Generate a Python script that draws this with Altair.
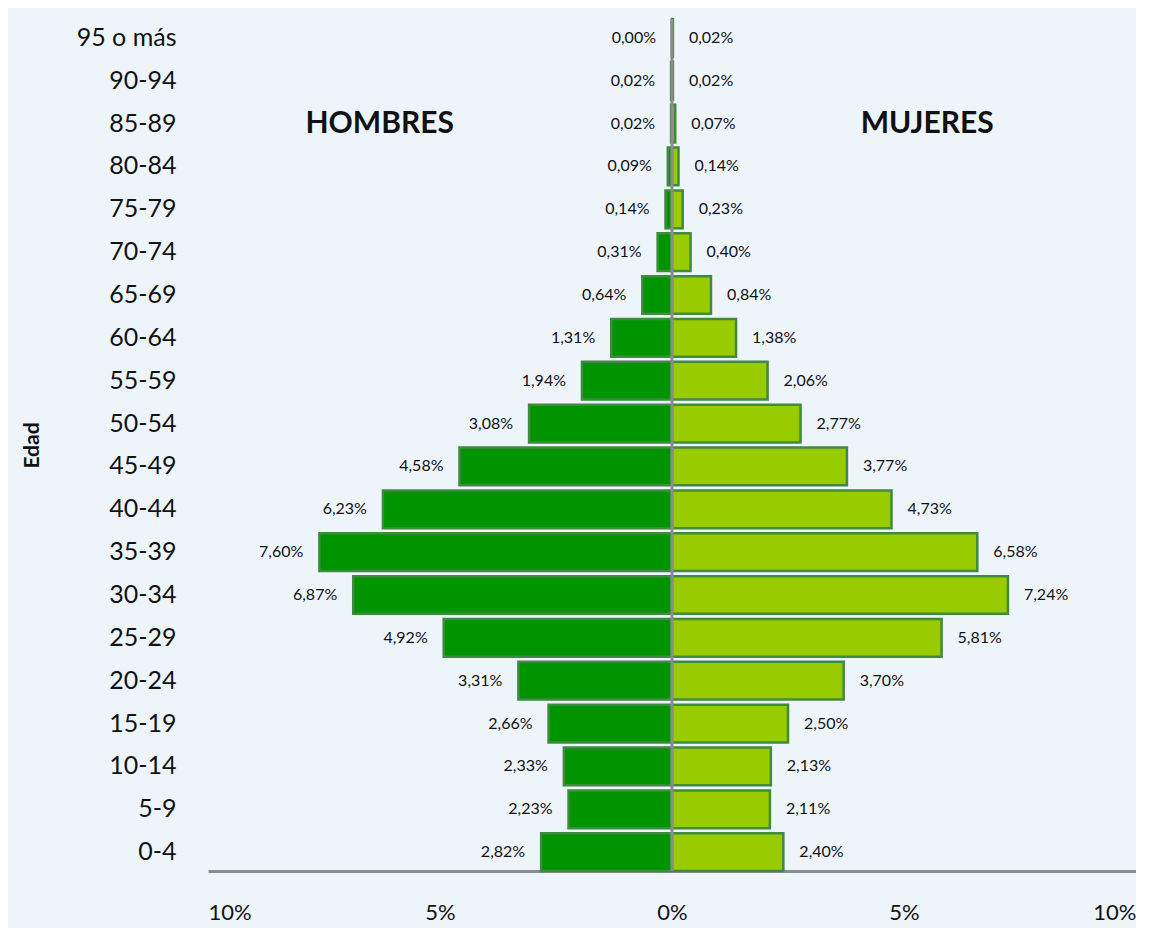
import altair as alt
import pandas as pd

# Age groups, bottom to top
ages = ["0-4", "5-9", "10-14", "15-19", "20-24", "25-29", "30-34", "35-39",
        "40-44", "45-49", "50-54", "55-59", "60-64", "65-69", "70-74",
        "75-79", "80-84", "85-89", "90-94", "95 o más"]
hombres = [2.82, 2.23, 2.33, 2.66, 3.31, 4.92, 6.87, 7.60, 6.23, 4.58,
           3.08, 1.94, 1.31, 0.64, 0.31, 0.14, 0.09, 0.02, 0.02, 0.00]
mujeres = [2.40, 2.11, 2.13, 2.50, 3.70, 5.81, 7.24, 6.58, 4.73, 3.77,
           2.77, 2.06, 1.38, 0.84, 0.40, 0.23, 0.14, 0.07, 0.02, 0.02]
x_ticks = [-10, -5, 0, 5, 10]
side_titles = ["HOMBRES", "MUJERES"]
side_title_x = [-6.3, 5.5]
side_title_age = ["85-89", "85-89"]

FONT = "Lato"

def fmt(v):
    return f"{v:.2f}".replace(".", ",") + "%"

rows = []
for a, h, m in zip(ages, hombres, mujeres):
    rows.append({"age": a, "sexo": "Hombres", "signed": -h, "label": fmt(h)})
    rows.append({"age": a, "sexo": "Mujeres", "signed": m, "label": fmt(m)})
df = pd.DataFrame(rows)

ann = pd.DataFrame({"t": side_titles, "x": side_title_x, "age": side_title_age})

order = list(reversed(ages))

y_enc = alt.Y("age:N", sort=order,
              scale=alt.Scale(paddingInner=0.12, paddingOuter=0.0),
              axis=alt.Axis(title="Edad", labelFontSize=25, labelFont=FONT,
                            labelColor="#111", labelPadding=32, ticks=False,
                            domain=False, titleFontSize=21, titleFont=FONT,
                            titleFontWeight="bold", titleColor="#111",
                            titlePadding=34))
x_scale = alt.Scale(domain=[-10, 10], nice=False)
x_enc = alt.X("signed:Q", scale=x_scale,
              axis=alt.Axis(values=x_ticks, labelExpr="abs(datum.value) + '%'",
                            title=None, grid=False, ticks=False,
                            domainColor="#8c8c8c", domainWidth=3,
                            labelFontSize=22, labelFont=FONT, labelColor="#111",
                            labelPadding=31))

base = alt.Chart(df)

bars = base.mark_bar(stroke="#3f8a3f", strokeWidth=2.5).encode(
    x=x_enc,
    x2=alt.datum(0),
    y=y_enc,
    color=alt.Color("sexo:N", scale=alt.Scale(domain=["Hombres", "Mujeres"],
                                              range=["#009400", "#99cc00"]),
                    legend=None),
)

lab_h = base.transform_filter("datum.sexo == 'Hombres'").mark_text(
    align="right", baseline="middle", dx=-16, fontSize=16, font=FONT, color="#111"
).encode(x=alt.X("signed:Q", scale=x_scale), y=alt.Y("age:N", sort=order), text="label:N")

lab_m = base.transform_filter("datum.sexo == 'Mujeres'").mark_text(
    align="left", baseline="middle", dx=16, fontSize=16, font=FONT, color="#111"
).encode(x=alt.X("signed:Q", scale=x_scale), y=alt.Y("age:N", sort=order), text="label:N")

zero = alt.Chart(pd.DataFrame({"z": [0]})).mark_rule(color="#8c8c8c", strokeWidth=3).encode(
    x=alt.X("z:Q", scale=x_scale)
)

titles = alt.Chart(ann).mark_text(fontSize=30, fontWeight="bold", font=FONT,
                                  color="#111", baseline="middle").encode(
    x=alt.X("x:Q", scale=x_scale),
    y=alt.Y("age:N", sort=order),
    text="t:N",
)

chart = alt.layer(bars, zero, lab_h, lab_m, titles).properties(
    width=928, height=852, background="#edf5fb",
    padding={"left": 13, "top": 9, "right": 0, "bottom": 5}
).configure_view(stroke=None)

chart.save("out.html", embed_options={"renderer": "svg", "actions": False})
